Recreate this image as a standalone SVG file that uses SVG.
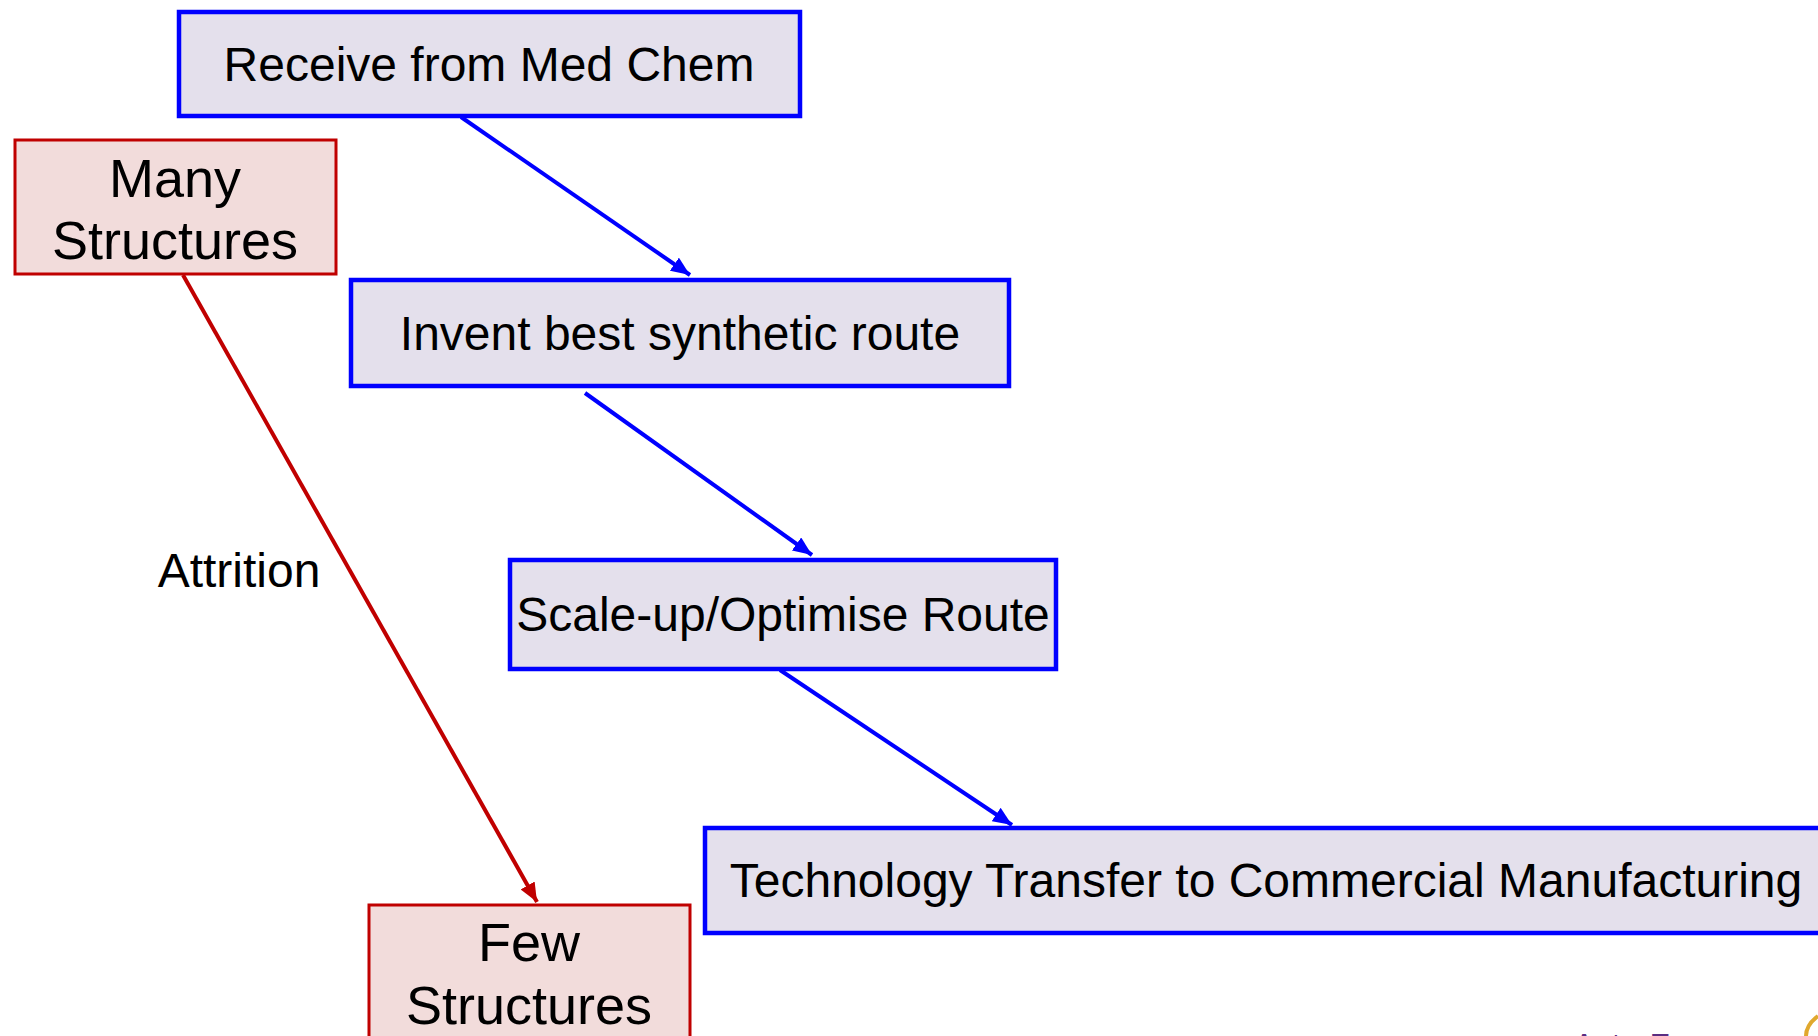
<svg xmlns="http://www.w3.org/2000/svg" width="1818" height="1036" viewBox="0 0 1818 1036">
  <style>
    .step rect { fill: #e4e0ec; stroke: #0000ff; stroke-width: 4.5; }
    .count rect { fill: #f2dcdb; stroke: #c00000; stroke-width: 3; }
    text { font-family: "Liberation Sans", Arial, sans-serif; fill: #000; text-anchor: middle; }
    .lbl { font-size: 48px; }
    .big { font-size: 54px; }
    .flow { stroke: #0000ff; stroke-width: 4; fill: none; }
    .drop { stroke: #c00000; stroke-width: 4; fill: none; }
  </style>
  <defs>
    <marker id="arrowBlue" markerUnits="userSpaceOnUse" markerWidth="20" markerHeight="16" refX="19" refY="8" orient="auto">
      <path d="M0,0 L19,8 L0,16 z" fill="#0000ff"/>
    </marker>
    <marker id="arrowRed" markerUnits="userSpaceOnUse" markerWidth="20" markerHeight="16" refX="19" refY="8" orient="auto">
      <path d="M0,0 L19,8 L0,16 z" fill="#c00000"/>
    </marker>
  </defs>

  <rect x="0" y="0" width="1818" height="1036" fill="#ffffff"/>

  <g id="connectors">
    <line class="flow" x1="461" y1="117" x2="690" y2="275" marker-end="url(#arrowBlue)"/>
    <line class="flow" x1="585" y1="393" x2="812" y2="555" marker-end="url(#arrowBlue)"/>
    <line class="flow" x1="780" y1="670" x2="1012" y2="825" marker-end="url(#arrowBlue)"/>
    <line class="drop" x1="183" y1="275" x2="537" y2="902" marker-end="url(#arrowRed)"/>
  </g>

  <g id="receive" class="step">
    <rect x="179" y="12" width="621" height="104"/>
    <text class="lbl" x="489" y="81">Receive from Med Chem</text>
  </g>

  <g id="many" class="count">
    <rect x="15" y="140" width="321" height="134"/>
    <text class="big" x="175" y="197">Many</text>
    <text class="big" x="175" y="259">Structures</text>
  </g>

  <g id="invent" class="step">
    <rect x="351" y="280" width="658" height="106"/>
    <text class="lbl" x="680" y="350">Invent best synthetic route</text>
  </g>

  <g id="scaleup" class="step">
    <rect x="510" y="560" width="546" height="109"/>
    <text class="lbl" x="783" y="631">Scale-up/Optimise Route</text>
  </g>

  <g id="transfer" class="step">
    <rect x="705" y="828" width="1130" height="105"/>
    <text class="lbl" x="1266" y="897">Technology Transfer to Commercial Manufacturing</text>
  </g>

  <g id="few" class="count">
    <rect x="369" y="905" width="321" height="150"/>
    <text class="big" x="529" y="961">Few</text>
    <text class="big" x="529" y="1024">Structures</text>
  </g>

  <g id="attrition">
    <text class="lbl" x="239" y="587">Attrition</text>
  </g>

  <g id="logo">
    <text x="1573" y="1057" style="font-size:33px; text-anchor:start; fill:#5a2d82;">AstraZeneca</text>
    <path d="M1818,1016 C1810,1022 1806,1028 1806,1036" fill="none" stroke="#e0a82e" stroke-width="4"/>
  </g>
</svg>
